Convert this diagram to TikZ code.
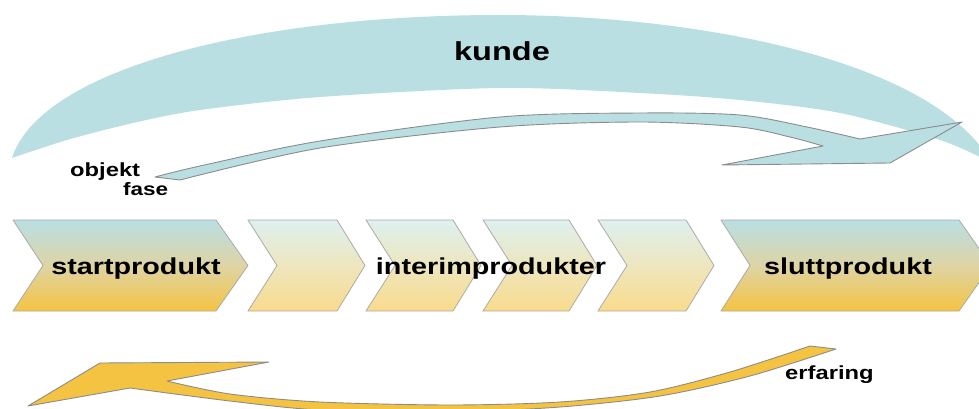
\documentclass[tikz,border=0pt]{standalone}
\usepackage{fontspec}
\setmainfont{Liberation Sans}[FakeStretch=1.25]
\definecolor{kundeblue}{RGB}{185,223,227}
\definecolor{gold}{RGB}{245,195,66}
\definecolor{paleblue}{RGB}{222,240,240}
\definecolor{palegold}{RGB}{249,219,140}
\definecolor{beige}{RGB}{222,212,165}
\definecolor{palebeige}{RGB}{238,230,190}
\definecolor{edgegray}{RGB}{140,140,140}
\definecolor{chevgray}{RGB}{170,170,170}
\begin{document}
\begin{tikzpicture}[x=1pt,y=-1pt,
  chevbig/.style={draw=chevgray, line width=0.8pt, top color=kundeblue, bottom color=gold, middle color=beige},
  chevsmall/.style={draw=chevgray, line width=0.8pt, top color=paleblue, bottom color=palegold, middle color=palebeige},
  arrowline/.style={draw=edgegray, line width=0.9pt, line join=round},
  lab/.style={inner sep=0pt, text=black, font=\bfseries\fontsize{#1}{#1}\selectfont},
]
\useasboundingbox (0,0) rectangle (979,409);
\clip (0,0) rectangle (979,409);

% customer band across the top
\fill[kundeblue] (12,158) .. controls (40,70) and (250,15) .. (500,15)
  .. controls (700,15) and (930,60) .. (990,160)
  -- plot[smooth] coordinates {(990,162) (940,140) (840,113) (740,100) (640,93) (500,88) (320,97) (200,110) (133,123) (67,140) (12,158)} -- cycle;
\node[lab=26, anchor=base] (kunde) at (502,61) {kunde};

% object phase arrow
\path[arrowline, fill=kundeblue] plot[smooth] coordinates {(155,177) (200,166) (320,141) (500,117) (640,113) (740,115) (807,127) (860,139)}
  -- (962,122) -- (890,163) -- (722,165)
  -- plot[smooth] coordinates {(823,146) (790,137) (740,127) (640,122) (500,127) (320,148) (180,180)} -- cycle;
\node[lab=19, anchor=base west] (objekt) at (70,176) {objekt};
\node[lab=18, anchor=base west] (fase) at (123,195) {fase};

% product chain
\path[chevbig] (13,220) -- (216,220) -- (248,265.5) -- (216,311) -- (13,311) -- (43,265.5) -- cycle;
\foreach \a/\b in {248/337, 366/453, 483/569, 598/686}
  \path[chevsmall] (\a,220) -- (\b,220) -- (\b+28,265.5) -- (\b,311) -- (\a,311) -- (\a+29,265.5) -- cycle;
\path[chevbig] (721,220) -- (959,220) -- (991,265.5) -- (959,311) -- (721,311) -- (750,265.5) -- cycle;

\node[lab=23, anchor=base] (start) at (136,274) {startprodukt};
\node[lab=23, anchor=base] (interim) at (491,274) {interimprodukter};
\node[lab=23, anchor=base] (slutt) at (848,274) {sluttprodukt};

% experience arrow back to the start
\path[arrowline, fill=gold] (28,406) -- (100,363) -- (269,362)
  -- plot[smooth] coordinates {(167,381) (230,394) (320,402) (450,405) (560,402) (650,392) (730,372) (810,346)}
  -- (836,349)
  -- plot[smooth] coordinates {(836,349) (750,376) (660,396) (560,407) (450,412) (320,410) (230,401) (130,388)} -- cycle;
\node[lab=19, anchor=base west] (erfaring) at (785,379) {erfaring};
\end{tikzpicture}
\end{document}
